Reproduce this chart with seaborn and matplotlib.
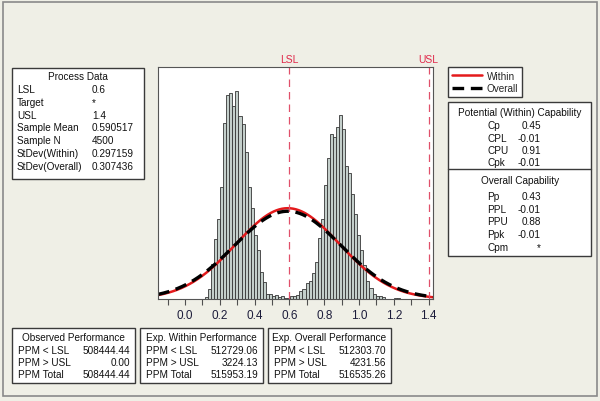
import numpy as np
import pandas as pd
import matplotlib
matplotlib.use("Agg")
import matplotlib.pyplot as plt
import seaborn as sns
from matplotlib.patches import Rectangle

# histogram: density of each bin, bins of equal width starting at bin_start
bin_start = 0.115
bin_width = 0.0175
bar_heights = [0.03, 0.15, 0.52, 0.88, 1.18, 1.66, 2.60, 3.02, 3.04, 2.85,
               3.08, 2.70, 2.58, 2.18, 1.65, 1.35, 0.95, 0.72, 0.40, 0.25,
               0.08, 0.07, 0.04, 0.06, 0.03, 0.05, 0.02, 0.01, 0.04, 0.05,
               0.06, 0.12, 0.15, 0.24, 0.27, 0.38, 0.55, 0.90, 1.18, 1.68,
               2.09, 2.44, 2.40, 2.54, 2.72, 2.51, 1.97, 1.87, 1.55, 1.25,
               0.95, 0.72, 0.50, 0.27, 0.16, 0.08, 0.05, 0.05, 0.03, 0.0,
               0.0, 0.0, 0.02, 0.02, 0.0]

lsl, usl = 0.6, 1.4
mean = 0.590517
sd_within = 0.297159
sd_overall = 0.307436

process_labels = ["LSL", "Target", "USL", "Sample Mean", "Sample N",
                  "StDev(Within)", "StDev(Overall)"]
process_values = ["0.6", "*", "1.4", "0.590517", "4500", "0.297159", "0.307436"]

within_labels = ["Cp", "CPL", "CPU", "Cpk"]
within_values = ["0.45", "-0.01", "0.91", "-0.01"]
overall_labels = ["Pp", "PPL", "PPU", "Ppk", "Cpm"]
overall_values = ["0.43", "-0.01", "0.88", "-0.01", "*"]

perf_titles = ["Observed Performance", "Exp. Within Performance",
               "Exp. Overall Performance"]
perf_labels = ["PPM < LSL", "PPM > USL", "PPM Total"]
perf_values = [["508444.44", "0.00", "508444.44"],
               ["512729.06", "3224.13", "515953.19"],
               ["512303.70", "4231.56", "516535.26"]]

sns.set_style("white")
plt.rcParams["font.family"] = ["Liberation Sans", "DejaVu Sans"]

W, H = 600, 402
bg = "#efefe6"
fig = plt.figure(figsize=(W / 100, H / 100), dpi=100, facecolor=bg)


def fx(x):
    return x / W


def fy(y):
    return 1 - y / H


def box(x0, y0, x1, y1):
    fig.add_artist(Rectangle((fx(x0), fy(y1)), (x1 - x0) / W, (y1 - y0) / H,
                             transform=fig.transFigure, facecolor="white",
                             edgecolor="#3a3a3a", lw=1))


def txt(x, y, s, ha="left", **kw):
    fig.text(fx(x), fy(y), s, ha=ha, va="center", fontsize=7.2,
             color="#111111", **kw)


# outer frame
fig.add_artist(Rectangle((fx(3), fy(397)), 594 / W, 394 / H,
                         transform=fig.transFigure, facecolor="none",
                         edgecolor="#8a8a8a", lw=1.2))

ax = fig.add_axes([fx(158), fy(300), 275 / W, 232 / H])
ax.set_facecolor("white")

centers = bin_start + bin_width * (np.arange(len(bar_heights)) + 0.5)
bin_end = bin_start + bin_width * len(bar_heights)
hist_df = pd.DataFrame({"x": centers, "h": bar_heights})
sns.histplot(data=hist_df, x="x", weights="h", binwidth=bin_width,
             binrange=(bin_start, bin_end), ax=ax,
             color="#c4cfcb", edgecolor="#363636", linewidth=0.6, alpha=1)

xs = np.linspace(-0.155, 1.425, 400)
pdf_w = np.exp(-0.5 * ((xs - mean) / sd_within) ** 2) / (sd_within * np.sqrt(2 * np.pi))
pdf_o = np.exp(-0.5 * ((xs - mean) / sd_overall) ** 2) / (sd_overall * np.sqrt(2 * np.pi))
sns.lineplot(x=xs, y=pdf_w, ax=ax, color="#e41a1c", lw=1.8, label="Within")
sns.lineplot(x=xs, y=pdf_o, ax=ax, color="black", lw=2.4,
             linestyle=(0, (3.5, 2)), label="Overall")

for v, name in [(lsl, "LSL"), (usl, "USL")]:
    ax.axvline(v, color="#e0506a", lw=0.9, linestyle=(0, (6, 4)))
    ax.text(v, 1.015, name, transform=ax.get_xaxis_transform(), ha="center",
            va="bottom", color="#e0284a", fontsize=7.5)

ax.set_xlim(-0.155, 1.425)
ax.set_ylim(0, 3.43)
ax.set_yticks([])
ax.set_ylabel("")
ax.set_xlabel("")
ax.set_xticks(np.round(np.arange(0, 1.41, 0.2), 1))
ax.set_xticklabels([f"{t:.1f}" for t in np.arange(0, 1.41, 0.2)])
ax.set_xticks(np.round(np.arange(-0.1, 1.41, 0.2), 1), minor=True)
ax.tick_params(axis="x", which="both", direction="out", length=4, width=0.8,
               color="#505050", labelsize=8.5, labelcolor="#1c1c3a", pad=3,
               bottom=True)
for s in ax.spines.values():
    s.set_color("#555555")
    s.set_linewidth(0.8)

leg = ax.legend(loc="upper left", bbox_to_anchor=(fx(448), fy(68)),
                bbox_transform=fig.transFigure, borderaxespad=0,
                fancybox=False, edgecolor="#3a3a3a", framealpha=1,
                fontsize=7.2, handlelength=3.0, handletextpad=0.5,
                borderpad=0.35, labelspacing=0.3)
leg.get_frame().set_linewidth(1)

# process data table
box(12, 69, 144, 180)
txt(78, 77, "Process Data", ha="center")
for i, (lab, val) in enumerate(zip(process_labels, process_values)):
    y = 90 + i * 12.8
    txt(17, y, lab)
    txt(92, y, val)

# capability table
box(448, 103, 591, 257)
fig.add_artist(plt.Line2D([fx(448), fx(591)], [fy(170), fy(170)],
                          transform=fig.transFigure, color="#3a3a3a", lw=1))
txt(520, 113, "Potential (Within) Capability", ha="center")
for i, (lab, val) in enumerate(zip(within_labels, within_values)):
    y = 126 + i * 12.5
    txt(487, y, lab)
    txt(541, y, val, ha="right")
txt(520, 181, "Overall Capability", ha="center")
for i, (lab, val) in enumerate(zip(overall_labels, overall_values)):
    y = 197 + i * 12.7
    txt(487, y, lab)
    txt(541, y, val, ha="right")

# performance tables
box_x = [12, 140, 268]
for bx, title, vals in zip(box_x, perf_titles, perf_values):
    box(bx, 329, bx + 123, 384)
    txt(bx + 61, 338, title, ha="center")
    for i, (lab, val) in enumerate(zip(perf_labels, vals)):
        y = 351 + i * 12
        txt(bx + 6, y, lab)
        txt(bx + 118, y, val, ha="right")

fig.savefig("out.png", dpi=100, facecolor=bg)
